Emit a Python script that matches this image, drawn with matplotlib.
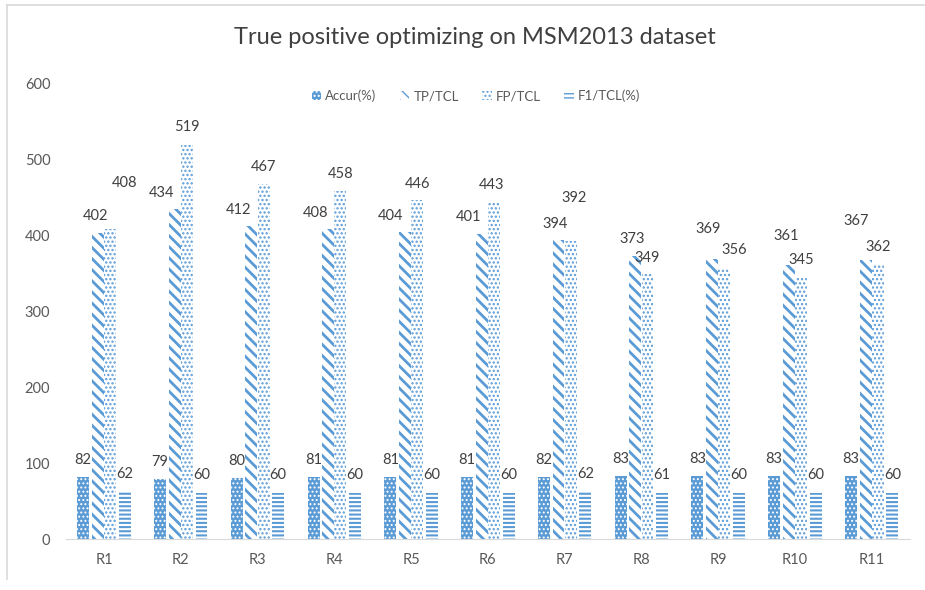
import matplotlib
matplotlib.use("Agg")
import matplotlib.pyplot as plt
from matplotlib.lines import Line2D
import numpy as np


# * Data
categories = ["R1", "R2", "R3", "R4", "R5", "R6", "R7", "R8", "R9", "R10", "R11"]
accur = [82, 79, 80, 81, 81, 81, 82, 83, 83, 83, 83]
tp_tcl = [402, 434, 412, 408, 404, 401, 394, 373, 369, 361, 367]
fp_tcl = [408, 519, 467, 458, 446, 443, 392, 349, 356, 345, 362]
f1_tcl = [62, 60, 60, 60, 60, 60, 62, 61, 60, 60, 60]
series_names = ["Accur(%)", "TP/TCL", "FP/TCL", "F1/TCL(%)"]

# label nudges (pixels) so the labels don't collide, like Excel did it
tp_dx = [-2, -13, -13, -13, -14, -13, -3, -3, -4, -3, -9]
tp_dy = [17, 16, 16, 16, 16, 17, 16, 17, 30, 29, 39]
fp_dx = [14, 0, 0, 0, 0, -2, 3, 0, 10, 0, 0]
fp_dy = [46, 18, 17, 17, 16, 17, 43, 16, 18, 17, 17]

# * Style
BLUE = "#5B9BD5"
TEXT = "#404040"
GRAY = "#595959"
plt.rcParams["font.family"] = ["Lato", "DejaVu Sans"]

fig = plt.figure(figsize=(9.25, 5.9), dpi=100)
ax = fig.add_axes([0.0709, 0.0864, 0.913, 0.7729])

x = np.arange(len(categories))
w = 0.155
offsets = [-0.27, -0.08, 0.08, 0.27]
# (style, hatch linewidth)
styles = [
    (dict(facecolor=BLUE, edgecolor="white", hatch="...."), 0.9),
    (dict(facecolor="white", edgecolor=BLUE, hatch="\\\\\\"), 2.0),
    (dict(facecolor="white", edgecolor=BLUE, hatch="...."), 1.1),
    (dict(facecolor="white", edgecolor=BLUE, hatch="----"), 1.5),
]
all_vals = [accur, tp_tcl, fp_tcl, f1_tcl]


def hatched_bar(xs, vals, st, hlw):
    with plt.rc_context({"hatch.linewidth": hlw}):
        bars = ax.bar(xs, vals, width=w, linewidth=0, **st)
        for b in bars:
            if hasattr(b, "set_hatch_linewidth"):
                b.set_hatch_linewidth(hlw)
    return bars


for vals, off, (st, hlw) in zip(all_vals, offsets, styles):
    hatched_bar(x + off, vals, st, hlw)

# data labels
lbl = dict(textcoords="offset pixels", ha="center", va="center", fontsize=10.5, color=TEXT)
for i in range(len(categories)):
    ax.annotate(str(accur[i]), (x[i] + offsets[0], accur[i]), xytext=(0, 17), **lbl)
    ax.annotate(str(tp_tcl[i]), (x[i] + offsets[1], tp_tcl[i]), xytext=(tp_dx[i], tp_dy[i]), **lbl)
    ax.annotate(str(fp_tcl[i]), (x[i] + offsets[2], fp_tcl[i]), xytext=(fp_dx[i], fp_dy[i]), **lbl)
    ax.annotate(str(f1_tcl[i]), (x[i] + offsets[3], f1_tcl[i]), xytext=(0, 18), **lbl)

ax.set_xlim(-0.5, len(categories) - 0.5)
ax.set_ylim(0, 600)
ax.set_yticks(range(0, 601, 100))
ax.set_xticks(x)
ax.set_xticklabels(categories)
ax.tick_params(axis="both", length=0, labelsize=10.5, labelcolor=GRAY)
ax.tick_params(axis="y", pad=11)
ax.tick_params(axis="x", pad=10)
for s in ["top", "right", "left"]:
    ax.spines[s].set_visible(False)
ax.spines["bottom"].set_color("#D9D9D9")

# legend
handles = []
for st, hlw in styles:
    with plt.rc_context({"hatch.linewidth": hlw}):
        h = plt.Rectangle((0, 0), 1, 1, linewidth=0, **st)
        if hasattr(h, "set_hatch_linewidth"):
            h.set_hatch_linewidth(hlw)
    handles.append(h)
ax.legend(handles, series_names, loc="center", bbox_to_anchor=(476 / 925, 1 - 96 / 590),
          bbox_transform=fig.transFigure, ncol=4, frameon=False, fontsize=9.5,
          handlelength=0.7, handleheight=0.7, handletextpad=0.3, columnspacing=1.8,
          labelcolor=GRAY)

fig.text(475 / 925, 1 - 38 / 590, "True positive optimizing on MSM2013 dataset",
         ha="center", va="center", fontsize=17, color=TEXT)

# chart frame (top + left edges visible)
fig.add_artist(Line2D([7 / 925, 1], [1 - 5 / 590, 1 - 5 / 590], color="#D9D9D9", lw=1.2))
fig.add_artist(Line2D([7 / 925, 7 / 925], [1 - 5 / 590, 1 - 579 / 590], color="#D9D9D9", lw=1.2))

fig.savefig("out.png", dpi=100)
